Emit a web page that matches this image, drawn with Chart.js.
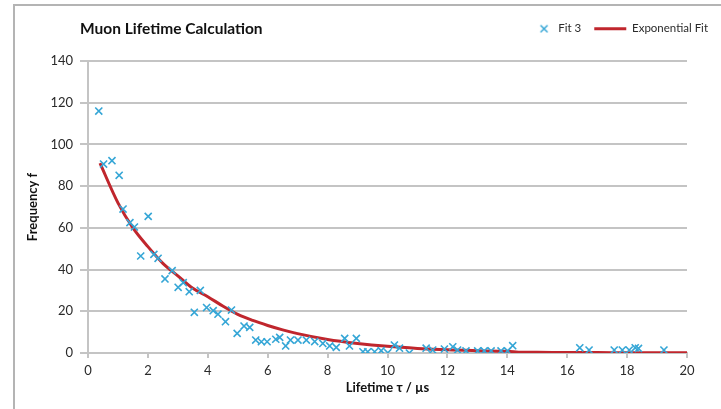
<!DOCTYPE html>
<html>
<head>
<meta charset="utf-8">
<script src="https://cdn.jsdelivr.net/npm/chart.js@4"></script>
<style>
  body { margin: 0; background: #fff; }
  #wrap { position: relative; width: 721px; height: 409px; overflow: hidden; }
  #frame { position: absolute; left: 13px; top: 4px; width: 720px; height: 420px; border: 2px solid #b4b4b4; pointer-events: none; }
</style>
</head>
<body>
<div id="wrap">
  <canvas id="muon" width="721" height="409"></canvas>
  <div id="frame"></div>
</div>
<script>
var chartTitle = "Muon Lifetime Calculation";

var lifetimes = [0.36, 0.52, 0.8, 1.04, 1.17, 1.4, 1.55, 1.76, 2.01, 2.2, 2.34, 2.57, 2.81, 3.01, 3.18,
  3.38, 3.55, 3.75, 3.96, 4.18, 4.34, 4.59, 4.79, 4.98, 5.21, 5.4, 5.6, 5.79, 5.98, 6.27, 6.4, 6.6,
  6.76, 7.01, 7.29, 7.57, 7.84, 8.07, 8.29, 8.57, 8.73, 8.96, 9.18, 9.34, 9.57, 9.79, 10.01, 10.23,
  10.4, 10.73, 11.29, 11.51, 11.9, 12.18, 12.34, 12.62, 13.01, 13.23, 13.46, 13.79, 14.01, 14.18,
  16.42, 16.73, 17.57, 17.84, 18.07, 18.27, 18.38, 19.23];
var counts = [116, 90.6, 92.2, 85.2, 69, 62.5, 60.4, 46.5, 65.5, 47.3, 45.4, 35.5, 39.5, 31.5, 33.7,
  29.4, 19.5, 30, 21.8, 20.3, 18.6, 15, 20.6, 9.4, 12.9, 12.3, 6.2, 5.4, 5.4, 6.6, 7.5, 3.4,
  6.2, 6.2, 6.2, 5.5, 4.6, 3.4, 2.7, 7, 3.4, 7, 0.6, 0.6, 0.6, 1.1, 0.1, 3.8,
  2.3, 0, 2.3, 1.4, 1.9, 3, 1.4, 1, 1, 1, 1, 1, 1, 3.5,
  2.5, 1.4, 1.4, 1.4, 1.4, 2.5, 2.2, 1.4];

// exponential fit curve
var fitTimes = [0.4, 1.0, 1.5, 2.0, 2.5, 3.0, 3.5, 4.0, 4.5, 5.0, 5.5, 6.0, 6.5, 7.0, 8.0, 9.0,
  10.0, 11.0, 12.0, 13.0, 14.0, 14.5, 15.0, 16.0, 17.0, 18.0, 19.0, 20.0];
var fitCounts = [91, 72, 60, 51, 43, 37, 31, 27, 22.5, 18.5, 15.6, 13.2, 11.1, 9.3, 6.5, 4.6,
  3.2, 2.2, 1.5, 1.1, 0.8, 0.3, 0.3, 0.2, 0.2, 0.1, 0.1, 0.1];

var xMin = 0, xMax = 20, xStep = 2;
var yMin = 0, yMax = 140, yStep = 20;

var measured = lifetimes.map(function (t, i) { return {x: t, y: counts[i]}; });
var fitted = fitTimes.map(function (t, i) { return {x: t, y: fitCounts[i]}; });

var crossBlue = "#35a6d6";
var fitRed = "#c0262d";
var gridGray = "#c4c4c4";
var textGray = "#2a2a2a";

// legend swatch for the crosses: small X sitting near the text side of a 30px box
var crossSwatch = document.createElement("canvas");
crossSwatch.width = 30;
crossSwatch.height = 10;
var sw = crossSwatch.getContext("2d");
sw.strokeStyle = crossBlue;
sw.lineWidth = 1.5;
sw.beginPath();
sw.moveTo(19, 1.5); sw.lineTo(26, 8.5);
sw.moveTo(26, 1.5); sw.lineTo(19, 8.5);
sw.stroke();

var titlePlugin = {
  id: "muonTitle",
  beforeInit: function (chart) {
    // leave room under the legend row before the plot starts
    var fitLegend = chart.legend.fit;
    chart.legend.fit = function () {
      fitLegend.bind(chart.legend)();
      this.height += 16.5;
    };
  },
  afterDraw: function (chart) {
    var ctx = chart.ctx;
    ctx.save();
    ctx.font = "bold 15.5px Lato";
    ctx.fillStyle = "#111";
    ctx.textBaseline = "middle";
    ctx.fillText(chartTitle, 80, 29);
    ctx.restore();
  }
};

new Chart("muon", {
  type: "scatter",
  data: {
    datasets: [{
      label: "Fit 3",
      data: measured,
      pointStyle: "crossRot",
      pointRadius: 5,
      pointBorderWidth: 1.6,
      borderColor: crossBlue,
      backgroundColor: crossBlue,
      order: 1
    }, {
      label: "Exponential Fit",
      data: fitted,
      showLine: true,
      pointRadius: 0,
      pointStyle: "line",
      borderColor: fitRed,
      backgroundColor: fitRed,
      borderWidth: 3,
      cubicInterpolationMode: "monotone",
      order: 2
    }]
  },
  options: {
    responsive: false,
    animation: false,
    layout: { padding: { left: 20, right: 0, top: 10, bottom: 0 } },
    plugins: {
      title: { display: false },
      tooltip: { enabled: false },
      legend: {
        position: "top",
        align: "end",
        labels: {
          usePointStyle: true,
          pointStyleWidth: 32,
          boxHeight: 8,
          padding: 13,
          color: textGray,
          font: { family: "Lato", size: 11.5 },
          generateLabels: function (chart) {
            var items = Chart.defaults.plugins.legend.labels.generateLabels(chart);
            items[0].pointStyle = crossSwatch;
            return items;
          }
        }
      }
    },
    scales: {
      x: {
        type: "linear",
        min: xMin,
        max: xMax,
        afterFit: function (scale) { scale.height = 56; scale.paddingRight = 34; },
        ticks: { stepSize: xStep, padding: 5, color: textGray, font: { family: "Lato", size: 13 } },
        grid: { drawOnChartArea: false, drawTicks: true, tickLength: 5, color: gridGray, lineWidth: 2 },
        border: { display: true, color: gridGray, width: 2 },
        title: {
          display: true,
          text: "Lifetime τ / µs",
          color: "#111",
          font: { family: "Lato", size: 13, weight: "bold" },
          padding: { top: 0, bottom: 13 }
        }
      },
      y: {
        type: "linear",
        min: yMin,
        max: yMax,
        afterFit: function (scale) { scale.width = 68; },
        ticks: { stepSize: yStep, padding: 7, color: textGray, font: { family: "Lato", size: 13 } },
        grid: { color: gridGray, lineWidth: 2, tickLength: 8 },
        border: { display: true, color: gridGray, width: 2 },
        title: {
          display: true,
          text: "Frequency f",
          color: "#111",
          font: { family: "Lato", size: 13, weight: "bold" },
          padding: { top: 5, bottom: 0 }
        }
      }
    }
  },
  plugins: [titlePlugin]
});
</script>
</body>
</html>
